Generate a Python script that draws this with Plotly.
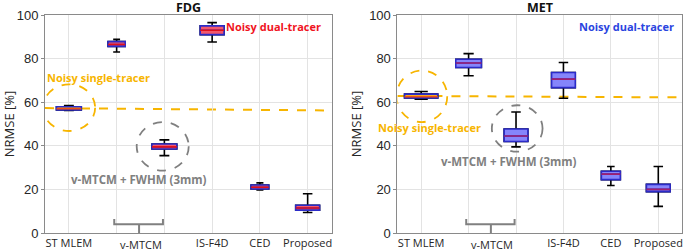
import plotly.graph_objects as go

# ---------------- data ----------------
categories = ["ST MLEM", "v-MTCM", "v-MTCM + FWHM (3mm)", "IS-F4D", "CED", "Proposed"]
positions = [1, 2, 3, 4, 5, 6]

# FDG statistics (lower whisker, q1, median, q3, upper whisker)
fdg_low = [56.2, 83.0, 35.5, 87.6, 19.8, 9.4]
fdg_q1 = [56.5, 85.6, 38.5, 91.0, 20.2, 10.5]
fdg_med = [57.0, 86.5, 39.5, 93.0, 21.0, 11.5]
fdg_q3 = [57.9, 87.8, 40.8, 95.0, 22.0, 12.7]
fdg_high = [58.5, 88.8, 42.7, 96.5, 23.0, 18.0]

# MET statistics
met_low = [61.4, 72.1, 39.5, 61.8, 21.8, 12.2]
met_q1 = [61.9, 75.9, 42.0, 66.7, 24.5, 19.0]
met_med = [62.5, 78.0, 44.5, 70.6, 27.0, 20.0]
met_q3 = [63.7, 79.7, 47.7, 73.6, 28.3, 22.3]
met_high = [64.9, 82.3, 55.5, 78.2, 30.5, 30.5]

box_widths_fdg = [0.52, 0.36, 0.52, 0.5, 0.37, 0.5]
box_widths_met = [0.7, 0.54, 0.5, 0.5, 0.4, 0.5]

single_tracer_fdg = [57.3, 56.2]   # dashed reference line, left/right end
single_tracer_met = [62.9, 62.2]

tick_vals = [1, 2, 3, 4, 5, 6]
tick_text = ["ST MLEM", "", "", "IS-F4D", "CED", "Proposed"]
y_ticks = [0, 20, 40, 60, 80, 100]

GOLD = "#f7b500"
GRAY = "#808080"
BLUE_EDGE = "#2b2bc8"

fig = go.Figure()


def add_panel(xa, ya, low, q1, med, q3, high, widths, fill, med_color, st_fill, st_med):
    for i, p in enumerate(positions):
        f = st_fill if i == 0 else fill
        mc = st_med if i == 0 else med_color
        common = dict(x=[p], width=widths[i], xaxis=xa, yaxis=ya, boxpoints=False,
                      showlegend=False, hoverinfo="skip")
        # whiskers (black)
        fig.add_trace(go.Box(q1=[q1[i]], median=[med[i]], q3=[q3[i]],
                             lowerfence=[low[i]], upperfence=[high[i]],
                             line=dict(color="black", width=1.6),
                             fillcolor="rgba(0,0,0,0)", whiskerwidth=0.4, **common))
        # box body
        fig.add_trace(go.Box(q1=[q1[i]], median=[med[i]], q3=[q3[i]],
                             lowerfence=[q1[i]], upperfence=[q3[i]],
                             line=dict(color=BLUE_EDGE, width=1.6),
                             fillcolor=f, whiskerwidth=0, **common))
        # median line
        fig.add_trace(go.Box(q1=[med[i]], median=[med[i]], q3=[med[i]],
                             lowerfence=[med[i]], upperfence=[med[i]],
                             line=dict(color=mc, width=1.6),
                             fillcolor="rgba(0,0,0,0)", whiskerwidth=0, **common))


add_panel("x", "y", fdg_low, fdg_q1, fdg_med, fdg_q3, fdg_high, box_widths_fdg,
          "#f2586c", "#e0101c", "#f6a81c", "#f05010")
add_panel("x2", "y2", met_low, met_q1, met_med, met_q3, met_high, box_widths_met,
          "#8585fb", "#a0206e", "#f6a81c", "#f05010")

axis_common = dict(showline=True, linecolor="#8a8a8a", linewidth=1, mirror=True,
                   showgrid=True, gridcolor="#e3e3e3", gridwidth=1, zeroline=False,
                   ticks="", tickfont=dict(family="Open Sans", size=11, color="#262626"))
yaxis_common = dict(showline=True, linecolor="#8a8a8a", linewidth=1, mirror=True,
                    showgrid=True, gridcolor="#e3e3e3", gridwidth=1, zeroline=False,
                    range=[0, 100], tickvals=y_ticks, ticks="outside", ticklen=3,
                    tickcolor="#8a8a8a",
                    tickfont=dict(family="Liberation Sans", size=13, color="#262626"),
                    title=dict(text="NRMSE [%]", standoff=4,
                               font=dict(family="Open Sans", size=13, color="#262626")))

fig.update_layout(
    width=685, height=252,
    margin=dict(l=45, r=2, t=15, b=17),
    paper_bgcolor="white", plot_bgcolor="white",
    boxmode="overlay",
    xaxis=dict(domain=[0, 0.4498], range=[0.5, 6.5], tickvals=tick_vals, ticktext=tick_text,
               anchor="y", **axis_common),
    xaxis2=dict(domain=[0.5533, 1.0], range=[0.5, 6.5], tickvals=tick_vals, ticktext=tick_text,
                anchor="y2", **axis_common),
    yaxis=dict(domain=[0, 1], anchor="x", **yaxis_common),
    yaxis2=dict(domain=[0, 1], anchor="x2", **yaxis_common),
)

shapes = []
annotations = []
for xa, ya, st, circ_st, circ_gr in [
    ("x", "y", single_tracer_fdg, (0.46, 1.55, 46.8, 68.2), (2.42, 3.51, 28.6, 50.9)),
    ("x2", "y2", single_tracer_met, (0.48, 1.55, 50.9, 74.5), (2.49, 3.56, 37.3, 58.6)),
]:
    shapes.append(dict(type="line", xref=xa, yref=ya, x0=0.5, x1=6.5, y0=st[0], y1=st[1],
                       line=dict(color=GOLD, width=2, dash="dash"), layer="below"))
    shapes.append(dict(type="circle", xref=xa, yref=ya, x0=circ_st[0], x1=circ_st[1],
                       y0=circ_st[2], y1=circ_st[3], line=dict(color=GOLD, width=1.8, dash="dash")))
    shapes.append(dict(type="circle", xref=xa, yref=ya, x0=circ_gr[0], x1=circ_gr[1],
                       y0=circ_gr[2], y1=circ_gr[3], line=dict(color=GRAY, width=1.8, dash="dash")))
    shapes.append(dict(type="path", xref=xa, yref=ya,
                       path="M 1.95,6.4 L 1.95,4 L 2.97,4 L 2.97,6.4 M 2.47,4 L 2.47,0",
                       line=dict(color=GRAY, width=2)))
    annotations.append(dict(x=2.5, y=0, xref=xa, yref=ya + " domain",
                            text="v-MTCM", showarrow=False, yanchor="top", yshift=-2,
                            font=dict(family="Open Sans", size=11, color="#262626")))

fig.update_layout(shapes=shapes)


def ann(xa, ya, x, y, text, color, size=11):
    annotations.append(dict(x=x, y=y, xref=xa, yref=ya, text="<b>%s</b>" % text, showarrow=False,
                            font=dict(family="Open Sans", size=size, color=color)))


ann("x", "y", 5.29, 94.5, "Noisy dual-tracer", "#f0141e")
ann("x", "y", 1.63, 71.4, "Noisy single-tracer", GOLD)
ann("x", "y", 2.47, 24.5, "v-MTCM + FWHM (3mm)", GRAY, 11.5)
ann("x2", "y2", 5.32, 94.5, "Noisy dual-tracer", "#2a44e0")
ann("x2", "y2", 1.17, 48.2, "Noisy single-tracer", GOLD)
ann("x2", "y2", 2.85, 32.7, "v-MTCM + FWHM (3mm)", GRAY, 11.5)

for xa, t in [("x", "FDG"), ("x2", "MET")]:
    annotations.append(dict(x=0.5, y=1, xref=xa + " domain", yref="paper", text="<b>%s</b>" % t,
                            showarrow=False, yanchor="middle", yshift=8,
                            font=dict(family="Open Sans", size=12.5, color="#111111")))

fig.update_layout(annotations=annotations)

fig.write_html("out.html", config={"displayModeBar": False},
               post_script="document.body.style.margin='0';")
